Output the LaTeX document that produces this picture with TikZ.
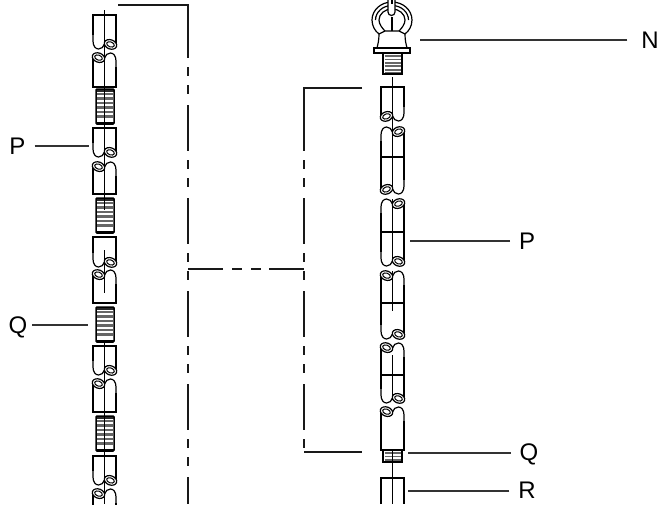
\documentclass[tikz,border=0pt]{standalone}
\usepackage{fontspec}
\setmainfont{Liberation Sans}
\tikzset{
	partlabel/.style={font=\fontsize{24}{24}\selectfont,inner sep=0pt,outer sep=0pt},
	leader/.style={line width=1.2pt,black!80,shorten <=9pt},
	axisline/.style={line width=1.15pt,black!90},
	hookend/.pic={
		\draw (-11.5,-14) -- (-11.5,-8) .. controls (-11.5,-3) and (-9,0) .. (-6,0) .. controls (-3,0) and (-1,-2) .. (0,-5);
		\draw (11.5,-14) -- (11.5,-5);
		\draw[fill=white] (6,-4.6) ellipse [x radius=6.4,y radius=4.6,rotate=-20];
		\draw[line width=1pt] (6,-4.6) ellipse [x radius=4,y radius=2.5,rotate=-20];
	},
	threads/.pic={
		\foreach \yy in {0,3.4,...,#1} {
			\draw[line width=1.8pt,black!60] (-8,\yy) -- (8,\yy);
		}
	},
	springcoil/.pic={
		\foreach \yy in {5,9.5,...,30} {
			\fill[black!60] (-8,\yy-1.4) rectangle (8,\yy+1.4);
		}
		\fill[black!85] (-9,0) rectangle (9,2.5);
		\fill[black] (-9,33) rectangle (9,35);
		\draw[line width=1.5pt,rounded corners=1pt] (-9,0) rectangle (9,35);
	}
}
\begin{document}
\begin{tikzpicture}[x=1pt,y=-1pt,line width=1.2pt]
	\useasboundingbox (0,0) rectangle (659,504);
	\clip (0,0) rectangle (659,504);
	% left chain
	\foreach \ytop/\ybot in {15/49,128/157,237/267,346/375,456/485} {
		\draw (93,\ybot-14) -- (93,\ytop) -- (116,\ytop) -- (116,\ybot-14);
		\pic at (104.5,\ybot) {hookend};
	}
	\foreach \ytop/\ybot in {53/87,162/194,270/303,379/412,489/522} {
		\draw (93,\ytop+14) -- (93,\ybot) -- (116,\ybot) -- (116,\ytop+14);
		\pic[xscale=-1,yscale=-1] at (104.5,\ytop) {hookend};
	}
	\foreach \ytop in {89,198,307,416} {
		\pic at (105,\ytop) {springcoil};
	}
	\draw (104.5,10) -- (104.5,210);
	\draw (104.5,250) -- (104.5,293);
	\draw (104.5,343) -- (104.5,504);
	% right chain
	\foreach \ytop/\ybot/\ybar in {127/194/157,199/266/232,271/339/303,343/403/375} {
		\draw (381,\ytop+14) -- (381,\ybot-14);
		\draw (404,\ytop+14) -- (404,\ybot-14);
		\draw (381,\ybar) -- (404,\ybar);
	}
	\draw (381,107) -- (381,87) -- (404,87) -- (404,107);
	\pic[xscale=-1] at (392.5,121) {hookend};
	\pic[yscale=-1] at (392.5,127) {hookend};
	\pic[xscale=-1] at (392.5,194) {hookend};
	\pic[yscale=-1] at (392.5,199) {hookend};
	\pic at (392.5,266) {hookend};
	\pic[xscale=-1,yscale=-1] at (392.5,271) {hookend};
	\pic at (392.5,339) {hookend};
	\pic[xscale=-1,yscale=-1] at (392.5,343) {hookend};
	\pic at (392.5,403) {hookend};
	\pic[xscale=-1,yscale=-1] at (392.5,407) {hookend};
	\draw (381,421) -- (381,450) -- (404,450) -- (404,421);
	\draw (381,504) -- (381,478) -- (404,478) -- (404,504);
	\draw (392.5,77) -- (392.5,189);
	\draw (392.5,199) -- (392.5,262);
	\draw (392.5,271) -- (392.5,311);
	\draw (392.5,355) -- (392.5,400);
	% short thread under last link
	\pic at (392.5,453) {threads=9};
	\draw[line width=1.5pt] (383,450) -- (383,462) -- (402,462) -- (402,450);
	\draw (392.5,450) -- (392.5,504);
	% eye bolt
	\draw (372,20) arc [start angle=180,end angle=360,x radius=20,y radius=18];
	\draw (375.5,20) arc [start angle=180,end angle=360,x radius=16.5,y radius=14.5];
	\draw (379,20) arc [start angle=180,end angle=360,x radius=13,y radius=11];
	\draw (372,20) .. controls (372,26) and (375,31) .. (379,34);
	\draw (412,20) .. controls (412,26) and (409,31) .. (405,34);
	\draw (379,20) .. controls (379,24) and (382,28) .. (385,31);
	\draw (405,20) .. controls (405,24) and (402,28) .. (399,31);
	\draw (379,34) -- (385,31) -- (399,31) -- (405,34);
	\draw (379,34) .. controls (379,40) and (378,44) .. (377,48);
	\draw (405,34) .. controls (405,40) and (406,44) .. (407,48);
	\draw (374,48) rectangle (410,53);
	\draw[fill=white] (388,-2) -- (388,12) arc [start angle=180,end angle=0,radius=3.5] -- (395,-2);
	\draw (392,-2) -- (392,4);
	\draw (392,17) -- (392,31);
	\pic at (392.5,56) {threads=18};
	\draw[line width=1.5pt] (383,53) -- (383,74) -- (402,74) -- (402,53);
	% axis lines
	\coordinate (cornerL) at (188,5);
	\coordinate (cornerR) at (304,88);
	\coordinate (cornerB) at (304,452);
	\coordinate (junctL) at (188,269);
	\coordinate (junctR) at (304,269);
	\coordinate (chainLtop) at (118,5);
	\coordinate (chainRtop) at (362,88);
	\coordinate (chainRbot) at (362,452);
	\draw[axisline] (chainLtop) -- (cornerL) -- (188,12);
	\draw[axisline,dash pattern=on 46pt off 9pt on 9pt off 9pt on 9pt off 11pt] (188,12) -- (188,504);
	\draw[axisline] (chainRtop) -- (cornerR) -- (304,105);
	\draw[axisline,dash pattern=on 46pt off 9pt on 9pt off 9pt on 9pt off 11pt] (304,105) -- (cornerB);
	\draw[axisline] (cornerB) -- (chainRbot);
	\draw[axisline,dash pattern=on 35pt off 9pt on 10pt off 9pt on 10pt off 8pt on 100pt] (junctL) -- (junctR);
	% labels
	\node[partlabel] (lblPl) at (17.5,146) {P};
	\node[partlabel] (lblQl) at (18,327) {Q};
	\node[partlabel] (lblN) at (650,40) {N};
	\node[partlabel] (lblPr) at (527,241) {P};
	\node[partlabel] (lblQr) at (529,454) {Q};
	\node[partlabel] (lblR) at (527,490) {R};
	\coordinate (endPl) at (89,146);
	\coordinate (endQl) at (88,325);
	\coordinate (endN) at (420,40);
	\coordinate (endPr) at (410,241);
	\coordinate (endQr) at (408,453);
	\coordinate (endR) at (408,491);
	\draw[leader] (lblPl.east |- endPl) -- (endPl);
	\draw[leader,shorten <=5pt] (lblQl.east |- endQl) -- (endQl);
	\draw[leader,shorten <=14pt] (lblN.west |- endN) -- (endN);
	\draw[leader] (lblPr.west |- endPr) -- (endPr);
	\draw[leader] (lblQr.west |- endQr) -- (endQr);
	\draw[leader] (lblR.west |- endR) -- (endR);
\end{tikzpicture}
\end{document}
